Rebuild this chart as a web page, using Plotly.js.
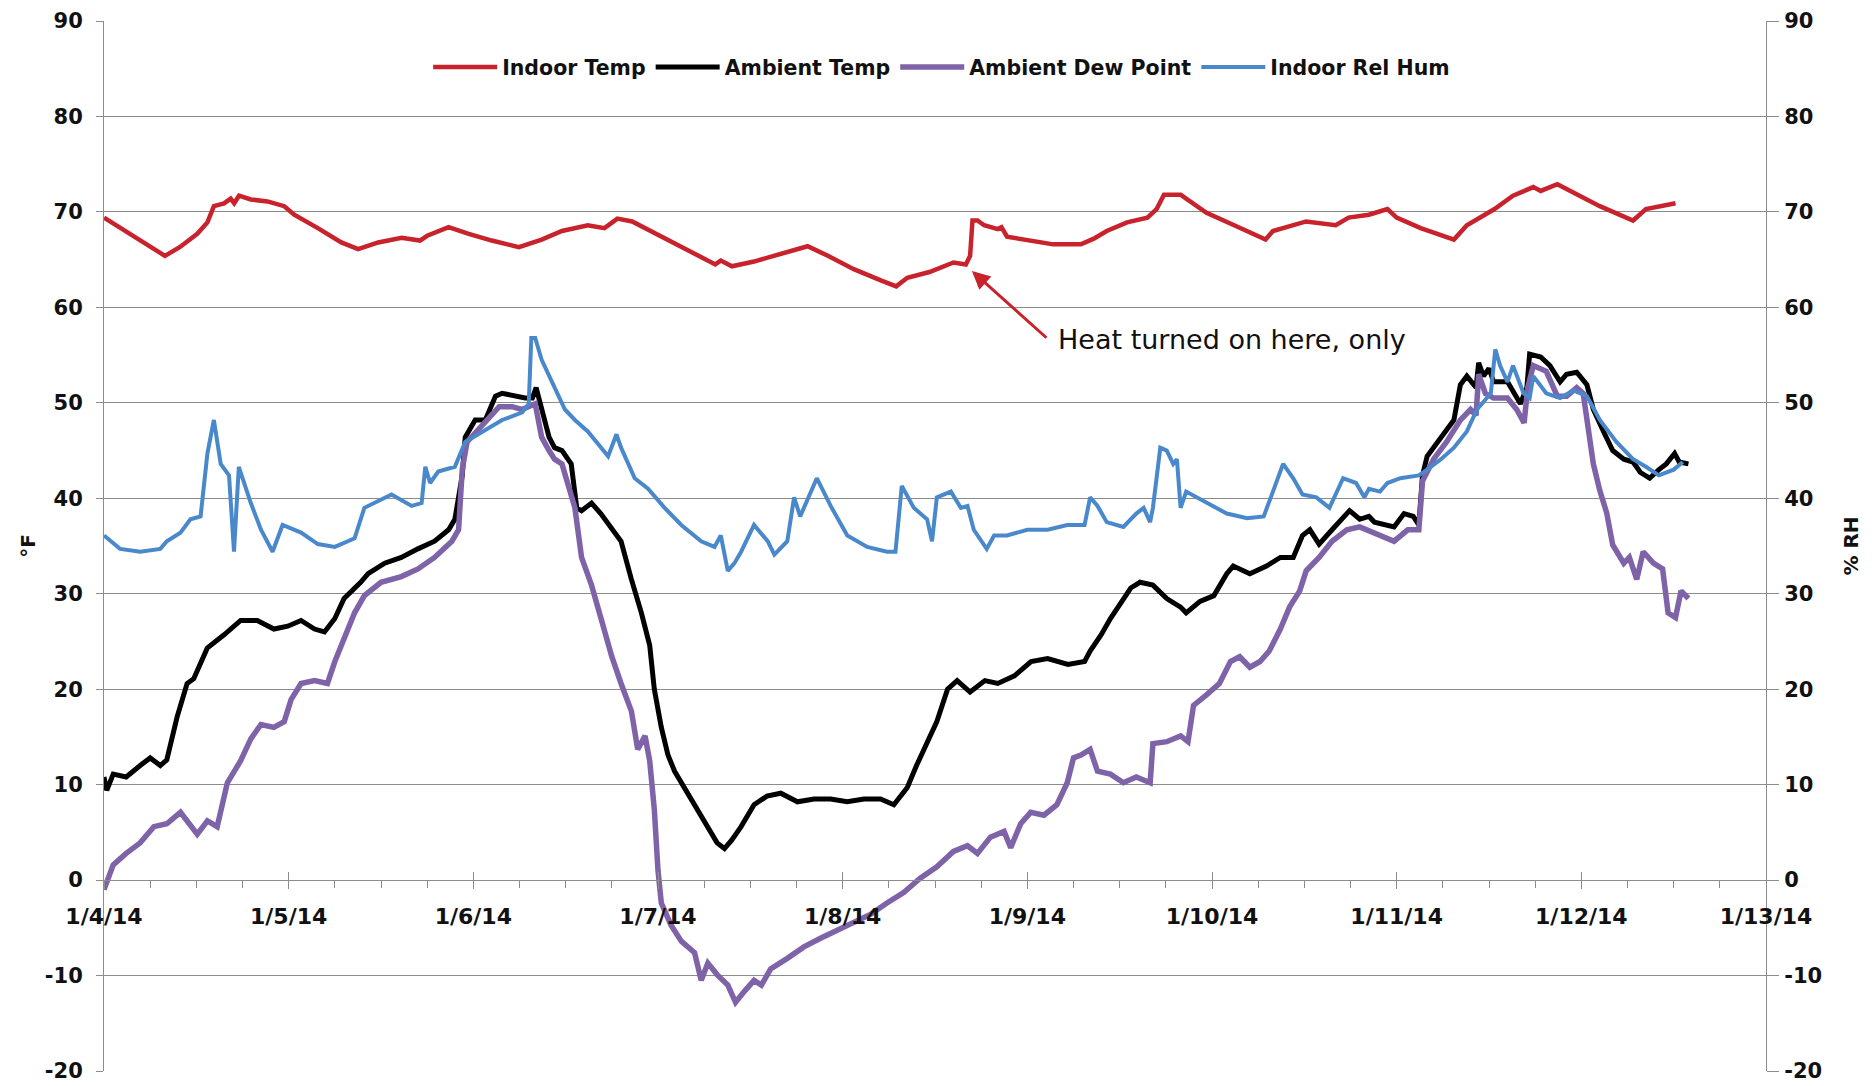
<!DOCTYPE html>
<html>
<head>
<meta charset="utf-8">
<script src="https://cdn.plot.ly/plotly-3.0.1.min.js"></script>
<style>html,body{margin:0;padding:0;background:#fff;}#chart{width:1872px;height:1086px;}</style>
</head>
<body>
<div id="chart"></div>
<script>
// Time is in days after 1/4/14 00:00
const indoorTempDays = [0,0.33,0.41,0.505,0.56,0.595,0.65,0.686,0.705,0.731,0.795,0.885,0.976,1.03,1.158,1.285,1.376,1.485,1.612,1.711,1.75,1.866,1.975,2.10,2.247,2.37,2.48,2.62,2.71,2.78,2.86,3.02,3.16,3.31,3.34,3.40,3.52,3.63,3.70,3.81,3.92,4.06,4.21,4.29,4.35,4.47,4.60,4.667,4.69,4.703,4.73,4.766,4.84,4.86,4.89,5.0,5.14,5.29,5.36,5.43,5.54,5.65,5.70,5.74,5.83,5.86,5.97,6.12,6.29,6.33,6.51,6.67,6.74,6.85,6.95,7.0,7.13,7.31,7.38,7.53,7.63,7.74,7.78,7.87,7.96,8.10,8.28,8.35,8.51];
const indoorTemp = [69.4,65.4,66.3,67.7,68.9,70.6,70.9,71.4,70.9,71.7,71.3,71.1,70.6,69.7,68.3,66.8,66.1,66.8,67.3,67.0,67.5,68.4,67.7,67.0,66.3,67.1,68.0,68.6,68.3,69.3,69.0,67.4,66.0,64.5,64.9,64.3,64.8,65.4,65.7,66.4,65.4,64.0,62.8,62.2,63.1,63.7,64.7,64.5,65.4,69.1,69.1,68.6,68.2,68.4,67.4,67.0,66.6,66.6,67.2,68.0,68.9,69.4,70.3,71.8,71.8,71.4,69.9,68.6,67.1,68.0,69.0,68.6,69.4,69.7,70.3,69.4,68.3,67.1,68.6,70.3,71.7,72.6,72.2,72.9,72.0,70.6,69.1,70.3,70.9];

const ambientTempDays = [0,0.015,0.05,0.12,0.196,0.25,0.305,0.34,0.396,0.45,0.486,0.559,0.65,0.74,0.83,0.92,0.995,1.067,1.14,1.194,1.25,1.30,1.39,1.43,1.52,1.61,1.70,1.79,1.866,1.90,1.94,1.956,2.01,2.065,2.12,2.156,2.28,2.32,2.34,2.37,2.41,2.44,2.48,2.53,2.56,2.586,2.64,2.69,2.75,2.80,2.856,2.91,2.955,2.98,3.018,3.054,3.09,3.16,3.216,3.27,3.32,3.36,3.40,3.45,3.52,3.59,3.665,3.755,3.845,3.935,4.025,4.115,4.205,4.277,4.35,4.40,4.457,4.51,4.568,4.62,4.69,4.77,4.84,4.93,5.02,5.11,5.22,5.31,5.34,5.40,5.45,5.50,5.56,5.61,5.68,5.755,5.83,5.86,5.935,6.01,6.08,6.115,6.205,6.295,6.37,6.44,6.49,6.53,6.58,6.65,6.745,6.80,6.85,6.88,6.95,6.986,7.04,7.09,7.12,7.14,7.165,7.24,7.31,7.345,7.38,7.43,7.444,7.47,7.50,7.525,7.60,7.67,7.705,7.72,7.78,7.83,7.885,7.92,7.975,8.03,8.065,8.12,8.17,8.23,8.28,8.32,8.37,8.42,8.46,8.505,8.53,8.58];
const ambientTemp = [10.8,9.4,11.1,10.8,12.0,12.8,12.0,12.6,17.1,20.6,21.1,24.3,25.7,27.2,27.2,26.3,26.6,27.2,26.3,26.0,27.4,29.5,31.2,32.1,33.2,33.8,34.7,35.5,36.7,37.8,42.4,46.4,48.2,48.2,50.7,51.0,50.5,50.5,51.6,49.3,46.4,45.3,45.0,43.6,39.0,38.7,39.5,38.4,36.7,35.5,31.5,28.0,24.6,20.0,16.0,13.1,11.4,9.1,7.4,5.6,3.9,3.3,4.2,5.6,7.9,8.8,9.1,8.2,8.5,8.5,8.2,8.5,8.5,7.9,9.7,12.0,14.3,16.6,20.0,20.9,19.7,20.9,20.6,21.4,22.9,23.2,22.6,22.9,24.0,25.7,27.4,28.9,30.6,31.2,30.9,29.5,28.6,28.0,29.2,29.8,32.1,32.9,32.1,32.9,33.8,33.8,36.1,36.7,35.2,36.7,38.7,37.8,38.1,37.5,37.1,37.0,38.4,38.1,37.2,42.4,44.4,46.4,48.2,51.9,52.8,51.6,54.2,52.8,53.6,52.2,52.2,49.9,51.6,55.1,54.8,53.9,52.2,53.0,53.2,51.9,49.3,47.0,45.0,44.1,43.8,42.7,42.1,43.0,43.6,44.7,43.8,43.6];

const dewPointDays = [0,0.05,0.12,0.196,0.27,0.34,0.414,0.45,0.505,0.56,0.613,0.668,0.74,0.795,0.85,0.92,0.976,1.013,1.067,1.14,1.21,1.25,1.30,1.357,1.41,1.50,1.61,1.70,1.79,1.884,1.92,1.94,1.966,2.03,2.065,2.14,2.21,2.263,2.335,2.37,2.41,2.44,2.48,2.514,2.55,2.586,2.64,2.69,2.75,2.80,2.856,2.89,2.93,2.955,2.98,3.0,3.018,3.07,3.126,3.198,3.234,3.27,3.32,3.378,3.42,3.47,3.52,3.56,3.61,3.70,3.79,3.88,3.97,4.06,4.15,4.24,4.33,4.42,4.51,4.60,4.676,4.73,4.80,4.874,4.91,4.964,5.018,5.09,5.16,5.216,5.25,5.29,5.34,5.38,5.45,5.52,5.59,5.665,5.68,5.755,5.83,5.87,5.90,5.97,6.04,6.10,6.15,6.205,6.26,6.31,6.37,6.42,6.475,6.51,6.58,6.65,6.73,6.80,6.88,6.95,6.986,7.06,7.12,7.14,7.2,7.27,7.345,7.40,7.43,7.444,7.48,7.525,7.60,7.65,7.69,7.71,7.74,7.81,7.87,7.92,7.975,8.01,8.03,8.065,8.10,8.137,8.17,8.23,8.26,8.30,8.335,8.39,8.44,8.47,8.51,8.54,8.58];
const dewPoint = [-1.0,1.6,2.8,3.9,5.6,5.9,7.1,6.2,4.8,6.2,5.6,10.2,12.5,14.8,16.3,16.0,16.6,18.9,20.6,20.9,20.6,22.9,25.2,28.0,29.8,31.2,31.8,32.6,33.8,35.5,36.7,43.0,45.9,47.3,47.9,49.6,49.6,49.3,49.9,46.4,45.0,44.1,43.6,41.3,39.0,33.8,30.9,27.5,23.4,20.6,17.7,13.7,15.1,12.5,7.4,1.0,-2.4,-4.7,-6.4,-7.6,-10.5,-8.7,-9.9,-11.0,-12.8,-11.6,-10.5,-11.0,-9.3,-8.2,-7.0,-6.1,-5.3,-4.4,-3.6,-2.4,-1.3,0.2,1.4,3.0,3.6,2.8,4.5,5.1,3.4,5.9,7.1,6.8,7.9,10.2,12.8,13.1,13.7,11.4,11.1,10.2,10.8,10.2,14.3,14.5,15.1,14.5,18.3,19.4,20.6,22.9,23.4,22.3,22.9,24.0,26.3,28.6,30.3,32.4,33.8,35.5,36.7,37.0,36.4,35.9,35.5,36.7,36.7,41.8,44.1,45.9,48.2,49.3,48.7,53.0,51.0,50.5,50.5,49.3,47.9,51.6,53.9,53.3,50.7,50.7,51.6,51.0,48.2,43.6,40.8,38.5,35.1,33.2,33.8,31.5,34.4,33.2,32.6,28.0,27.5,30.3,29.5];

const relHumDays = [0,0.087,0.196,0.305,0.34,0.414,0.468,0.523,0.56,0.595,0.632,0.677,0.704,0.73,0.795,0.85,0.913,0.967,1.067,1.158,1.25,1.357,1.41,1.466,1.557,1.666,1.72,1.74,1.766,1.81,1.90,1.956,2.047,2.156,2.265,2.30,2.314,2.335,2.37,2.44,2.496,2.55,2.62,2.73,2.775,2.80,2.874,2.946,3.036,3.126,3.234,3.306,3.34,3.378,3.414,3.45,3.52,3.594,3.63,3.70,3.737,3.77,3.83,3.86,3.935,4.025,4.133,4.24,4.286,4.32,4.385,4.457,4.484,4.51,4.586,4.64,4.676,4.71,4.78,4.82,4.89,5.0,5.11,5.216,5.31,5.34,5.38,5.43,5.52,5.59,5.63,5.665,5.68,5.72,5.755,5.79,5.81,5.83,5.86,5.97,6.08,6.19,6.28,6.33,6.385,6.44,6.49,6.565,6.636,6.71,6.78,6.825,6.85,6.91,6.95,7.02,7.12,7.165,7.24,7.31,7.38,7.435,7.51,7.534,7.56,7.60,7.63,7.687,7.72,7.74,7.81,7.885,7.957,8.03,8.10,8.19,8.28,8.35,8.42,8.50,8.55];
const relHum = [36.1,34.7,34.4,34.7,35.5,36.4,37.8,38.1,44.7,48.2,43.6,42.4,34.4,43.3,39.5,36.7,34.4,37.2,36.4,35.2,34.9,35.8,39.0,39.5,40.4,39.2,39.5,43.3,41.6,42.8,43.3,45.9,47.0,48.2,49.0,49.9,56.8,56.8,54.5,51.6,49.3,48.2,47.0,44.4,46.7,45.3,42.1,41.0,39.0,37.2,35.5,34.9,36.1,32.4,33.2,34.4,37.2,35.5,34.1,35.5,40.1,38.1,40.7,42.1,39.2,36.1,34.9,34.4,34.4,41.3,39.0,37.8,35.5,40.1,40.7,39.0,39.2,36.7,34.7,36.1,36.1,36.7,36.7,37.2,37.2,40.1,39.2,37.5,37.0,38.4,39.0,37.5,39.0,45.3,45.0,43.6,44.1,39.0,40.7,39.5,38.4,37.9,38.1,40.7,43.6,42.1,40.4,40.1,39.0,42.1,41.6,40.1,41.0,40.7,41.6,42.1,42.4,43.0,44.1,45.3,47.0,49.3,51.0,55.6,53.9,52.2,53.9,51.0,50.5,52.8,51.0,50.5,51.3,50.7,48.2,45.9,44.1,43.3,42.4,43.0,43.8];

const seriesNames = ['Indoor Temp','Ambient Temp','Ambient Dew Point','Indoor Rel Hum'];
const seriesColors = ['#C8232C','#000000','#7F63A8','#4A88CC'];
const yTickVals = [-20,-10,0,10,20,30,40,50,60,70,80,90];
const yTickText = ['-20','-10','0','10','20','30','40','50','60','70','80','90'];
const leftTitle = '°F';
const rightTitle = '% RH';
const noteText = 'Heat turned on here, only';
const xStart = '2014-01-04';
const xEnd = '2014-01-13';

function toDate(d){
  const ms = Date.UTC(2014,0,4) + Math.round(d*86400000);
  return new Date(ms).toISOString().slice(0,19).replace('T',' ');
}

const FONT = 'DejaVu Sans, Verdana, sans-serif';
const GRID = '#8c8c8c';

const traces = [
  {x: indoorTempDays.map(toDate), y: indoorTemp, name: seriesNames[0], type:'scatter', mode:'lines', line:{color:seriesColors[0], width:4.5}, xaxis:'x', yaxis:'y'},
  {x: ambientTempDays.map(toDate), y: ambientTemp, name: seriesNames[1], type:'scatter', mode:'lines', line:{color:seriesColors[1], width:5}, xaxis:'x', yaxis:'y'},
  {x: dewPointDays.map(toDate), y: dewPoint, name: seriesNames[2], type:'scatter', mode:'lines', line:{color:seriesColors[2], width:5.5}, xaxis:'x', yaxis:'y'},
  {x: relHumDays.map(toDate), y: relHum, name: seriesNames[3], type:'scatter', mode:'lines', line:{color:seriesColors[3], width:4}, xaxis:'x2', yaxis:'y2'}
];

const zeroPos = 20/110;
const yTickFont = {family:FONT, size:21, color:'#111', weight:700};
const xTickFont = {family:FONT, size:22, color:'#111', weight:700};

const layout = {
  width:1872, height:1086,
  margin:{l:104, r:106, t:21, b:15, pad:0},
  paper_bgcolor:'#ffffff', plot_bgcolor:'#ffffff',
  font:{family:FONT, color:'#111'},
  showlegend:true,
  legend:{orientation:'h', x:0.504, xanchor:'center', y:0.956, yanchor:'middle', bgcolor:'rgba(0,0,0,0)', font:{family:FONT, size:20.5, color:'#111', weight:700}, itemwidth:64, traceorder:'normal', tracegroupgap:0},
  xaxis:{type:'date', range:[xStart, xEnd], anchor:'free', position:zeroPos, tick0:xStart, dtick:86400000, tickformat:'%-m/%-d/%y',
    ticks:'outside', ticklen:8, tickwidth:1, tickcolor:GRID, showline:true, linecolor:GRID, linewidth:1, showgrid:false, zeroline:false,
    tickfont:xTickFont, ticklabelstandoff:9,
    minor:{dtick:21600000, tick0:xStart, ticks:'outside', ticklen:7, tickwidth:1, tickcolor:GRID, showgrid:false}},
  xaxis2:{type:'date', range:[xStart, xEnd], overlaying:'x', anchor:'free', position:zeroPos, tick0:xStart, dtick:86400000,
    ticks:'inside', ticklen:8, tickwidth:1, tickcolor:GRID, showticklabels:false, showline:false, showgrid:false, zeroline:false},
  yaxis:{range:[-20,90], tickmode:'array', tickvals:yTickVals, ticktext:yTickText, showgrid:true, gridcolor:GRID, gridwidth:1, zeroline:false,
    showline:true, linecolor:GRID, linewidth:1, ticks:'outside', ticklen:7, tickcolor:GRID,
    tickfont:yTickFont, ticklabelstandoff:9,
    title:{text:leftTitle, font:{family:FONT, size:20, color:'#111', weight:700}, standoff:3}},
  yaxis2:{range:[-20,90], tickmode:'array', tickvals:yTickVals, ticktext:yTickText, overlaying:'y', side:'right', anchor:'x2', showgrid:false, zeroline:false,
    showline:true, linecolor:GRID, linewidth:1, ticks:'outside', ticklen:12, tickcolor:GRID,
    tickfont:yTickFont, ticklabelstandoff:1,
    title:{text:rightTitle, font:{family:FONT, size:20, color:'#111', weight:700}, standoff:22}},
  annotations:[
    {x: toDate(4.70), y:63.8, xref:'x', yref:'y', text:'', showarrow:true, ax:76, ay:68, axref:'pixel', ayref:'pixel',
     arrowcolor:seriesColors[0], arrowwidth:3, arrowhead:2, arrowsize:1.2, standoff:0},
    {x: toDate(5.157), y:56.6, xref:'x', yref:'y', text:noteText, showarrow:false, xanchor:'left', yanchor:'middle',
     font:{family:FONT, size:27, color:'#111'}}
  ]
};

Plotly.newPlot('chart', traces, layout, {staticPlot:true, displayModeBar:false});
</script>
</body>
</html>
